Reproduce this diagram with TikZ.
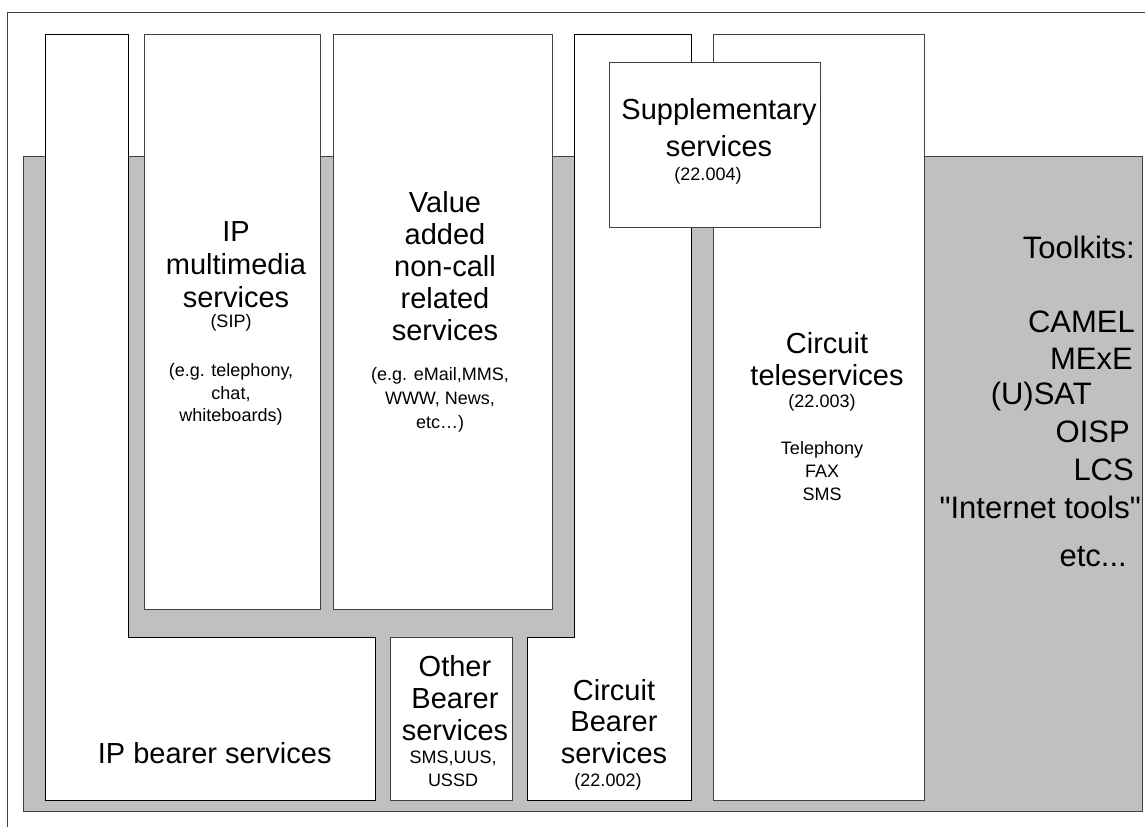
\documentclass[tikz,border=0pt]{standalone}
\usepackage{fontspec}
\setmainfont{Liberation Sans}
\newfontfamily\qfont{Liberation Sans}[Ligatures=TeXOff]
\definecolor{panel}{HTML}{C0C0C0}
\definecolor{edge}{HTML}{404040}
\begin{document}
\begin{tikzpicture}[x=1pt,y=-1pt,
  box/.style={draw=edge, line width=0.8pt, fill=white},
  lshape/.style={draw=black, line width=1pt, fill=white},
  big/.style={font=\fontsize{29}{#1}\selectfont, align=center, inner sep=0pt, anchor=north},
  small/.style={font=\fontsize{18}{#1}\selectfont, align=center, inner sep=0pt, anchor=north},
  smallbase/.style={font=\fontsize{18}{22}\selectfont, inner sep=0pt, anchor=base},
  tool/.style={font=\fontsize{31}{36}\selectfont, inner sep=0pt, anchor=base east}]
\useasboundingbox (0,0) rectangle (1145,827);
\fill[white] (0,0) rectangle (1145,827);
% outer frame
\draw[edge, line width=0.8pt] (7,827) -- (7,12) -- (1145,12);
% gray panel
\draw[fill=panel, draw=edge, line width=0.8pt] (23,156) rectangle (1142,811);
% IP bearer L-shape
\draw[lshape] (45,34) -- (128,34) -- (128,637) -- (375,637) -- (375,800) -- (45,800) -- cycle;
% IP multimedia
\draw[box] (144,34) rectangle (320,609);
% Value added
\draw[box] (333,34) rectangle (552,609);
% Circuit bearer shape
\draw[lshape] (574,34) -- (691,34) -- (691,800) -- (527,800) -- (527,637) -- (574,637) -- cycle;
% Other bearer
\draw[box] (390,637) rectangle (512,800);
% Circuit teleservices
\draw[box] (713,34) rectangle (924,800);
% Supplementary
\draw[box] (609,62) rectangle (820,227);

% texts
\node[big=33] (ipm) at (236,221) {IP\\multimedia\\services};
\node[small=22.2] (ipms) at (231,314.2) {(SIP)\\[27.2pt](e.g. telephony,\\chat,\\whiteboards)};

\node[big=32] (va) at (445,191.2) {Value\\added\\non-call\\related\\services};
\node[small=23.8] (vas) at (440,367.6) {(e.g. eMail,MMS,\\WWW, News,\\etc…)};

\node[big=37.4] (sup) at (719,98.2) {Supplementary\\services};
\node[smallbase] (sups) at (708,180) {(22.004)};

\node[big=31.7] (ct) at (827,332.2) {Circuit\\teleservices};
\node[small=23] (cts) at (822,394.2) {(22.003)\\[23.7pt]Telephony\\FAX\\SMS};

\node[big=32.3] (ob) at (455,654.9) {Other\\Bearer\\services};
\node[small=22.7] (obs) at (453,750.9) {SMS,UUS,\\USSD};

\node[big=31.5] (cb) at (614,678.9) {Circuit\\Bearer\\services};
\node[smallbase] (cbs) at (608,786) {(22.002)};

\node[font=\fontsize{29}{33}\selectfont, inner sep=0pt, anchor=base] (ipb) at (214.7,763.3) {IP bearer services};

\node[tool] (tk) at (1135,258) {Toolkits:};
\node[tool] (t1) at (1135,332) {CAMEL};
\node[tool] (t2) at (1133,369) {MExE};
\node[tool] (t3) at (1092,404) {(U)SAT};
\node[tool] (t4) at (1130,442) {OISP};
\node[tool] (t5) at (1134,480) {LCS};
\node[tool] (t6) at (1141,518) {\qfont "Internet tools"};
\node[tool] (t7) at (1127,566) {etc...};
\end{tikzpicture}
\end{document}
